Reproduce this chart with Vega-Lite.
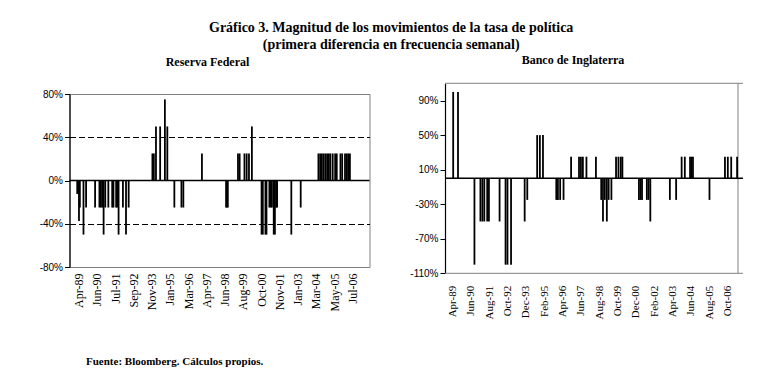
{
  "$schema": "https://vega.github.io/schema/vega-lite/v6.json",
  "background": "white",
  "padding": {"left": 38.5, "top": 20, "right": 5, "bottom": 5},
  "title": {
    "text": ["Gráfico 3. Magnitud de los movimientos de la tasa de política", "(primera diferencia en frecuencia semanal)"],
    "anchor": "middle",
    "font": "Liberation Serif",
    "fontSize": 14,
    "fontWeight": "bold",
    "lineHeight": 17,
    "offset": 1.7,
    "color": "black"
  },
  "datasets": {
    "fed": [
      {"fecha": "1989-03-05", "cambio": -0.125},
      {"fecha": "1989-03-27", "cambio": -0.125},
      {"fecha": "1989-04-14", "cambio": -0.375},
      {"fecha": "1989-05-04", "cambio": -0.25},
      {"fecha": "1989-07-27", "cambio": -0.5},
      {"fecha": "1989-09-25", "cambio": -0.25},
      {"fecha": "1990-04-20", "cambio": -0.25},
      {"fecha": "1990-07-29", "cambio": -0.25},
      {"fecha": "1990-09-01", "cambio": -0.25},
      {"fecha": "1990-10-04", "cambio": -0.25},
      {"fecha": "1990-11-02", "cambio": -0.5},
      {"fecha": "1990-12-10", "cambio": -0.25},
      {"fecha": "1991-02-19", "cambio": -0.25},
      {"fecha": "1991-05-19", "cambio": -0.25},
      {"fecha": "1991-06-17", "cambio": -0.25},
      {"fecha": "1991-08-18", "cambio": -0.25},
      {"fecha": "1991-09-14", "cambio": -0.25},
      {"fecha": "1991-10-13", "cambio": -0.5},
      {"fecha": "1992-01-21", "cambio": -0.25},
      {"fecha": "1992-04-01", "cambio": -0.5},
      {"fecha": "1992-06-01", "cambio": -0.25},
      {"fecha": "1993-11-30", "cambio": 0.25},
      {"fecha": "1994-01-02", "cambio": 0.25},
      {"fecha": "1994-02-20", "cambio": 0.5},
      {"fecha": "1994-05-27", "cambio": 0.5},
      {"fecha": "1994-09-13", "cambio": 0.75},
      {"fecha": "1994-11-08", "cambio": 0.5},
      {"fecha": "1995-04-19", "cambio": -0.25},
      {"fecha": "1995-09-29", "cambio": -0.25},
      {"fecha": "1995-11-12", "cambio": -0.25},
      {"fecha": "1997-01-13", "cambio": 0.25},
      {"fecha": "1998-07-23", "cambio": -0.25},
      {"fecha": "1998-08-12", "cambio": -0.25},
      {"fecha": "1998-09-01", "cambio": -0.25},
      {"fecha": "1999-04-23", "cambio": 0.25},
      {"fecha": "1999-05-31", "cambio": 0.25},
      {"fecha": "1999-09-19", "cambio": 0.25},
      {"fecha": "1999-11-09", "cambio": 0.25},
      {"fecha": "2000-01-01", "cambio": 0.25},
      {"fecha": "2000-03-08", "cambio": 0.5},
      {"fecha": "2000-10-17", "cambio": -0.5},
      {"fecha": "2000-11-15", "cambio": -0.5},
      {"fecha": "2001-01-14", "cambio": -0.5},
      {"fecha": "2001-02-07", "cambio": -0.5},
      {"fecha": "2001-04-15", "cambio": -0.25},
      {"fecha": "2001-05-14", "cambio": -0.25},
      {"fecha": "2001-06-12", "cambio": -0.25},
      {"fecha": "2001-07-24", "cambio": -0.5},
      {"fecha": "2001-08-20", "cambio": -0.5},
      {"fecha": "2001-09-18", "cambio": -0.25},
      {"fecha": "2001-10-10", "cambio": -0.25},
      {"fecha": "2002-09-02", "cambio": -0.5},
      {"fecha": "2003-04-06", "cambio": -0.25},
      {"fecha": "2004-05-18", "cambio": 0.25},
      {"fecha": "2004-06-27", "cambio": 0.25},
      {"fecha": "2004-08-06", "cambio": 0.25},
      {"fecha": "2004-09-15", "cambio": 0.25},
      {"fecha": "2004-10-25", "cambio": 0.25},
      {"fecha": "2004-12-04", "cambio": 0.25},
      {"fecha": "2005-01-13", "cambio": 0.25},
      {"fecha": "2005-02-17", "cambio": 0.25},
      {"fecha": "2005-04-12", "cambio": 0.25},
      {"fecha": "2005-06-07", "cambio": 0.25},
      {"fecha": "2005-07-14", "cambio": 0.25},
      {"fecha": "2005-10-07", "cambio": 0.25},
      {"fecha": "2005-11-16", "cambio": 0.25},
      {"fecha": "2006-01-20", "cambio": 0.25},
      {"fecha": "2006-02-28", "cambio": 0.25},
      {"fecha": "2006-04-03", "cambio": 0.25},
      {"fecha": "2006-05-13", "cambio": 0.25}
    ],
    "boe": [
      {"fecha": "1989-04-25", "cambio": 1.0},
      {"fecha": "1989-08-15", "cambio": 1.0},
      {"fecha": "1990-09-02", "cambio": -1.0},
      {"fecha": "1991-01-19", "cambio": -0.5},
      {"fecha": "1991-03-05", "cambio": -0.5},
      {"fecha": "1991-04-19", "cambio": -0.5},
      {"fecha": "1991-06-26", "cambio": -0.5},
      {"fecha": "1991-08-05", "cambio": -0.5},
      {"fecha": "1992-04-09", "cambio": -0.5},
      {"fecha": "1992-08-26", "cambio": -1.0},
      {"fecha": "1992-10-10", "cambio": -1.0},
      {"fecha": "1993-01-01", "cambio": -1.0},
      {"fecha": "1993-11-14", "cambio": -0.5},
      {"fecha": "1994-01-14", "cambio": -0.25},
      {"fecha": "1994-09-01", "cambio": 0.5},
      {"fecha": "1994-11-03", "cambio": 0.5},
      {"fecha": "1995-01-14", "cambio": 0.5},
      {"fecha": "1995-11-20", "cambio": -0.25},
      {"fecha": "1995-12-28", "cambio": -0.25},
      {"fecha": "1996-02-18", "cambio": -0.25},
      {"fecha": "1996-05-07", "cambio": -0.25},
      {"fecha": "1996-10-30", "cambio": 0.25},
      {"fecha": "1997-05-02", "cambio": 0.25},
      {"fecha": "1997-06-16", "cambio": 0.25},
      {"fecha": "1997-07-31", "cambio": 0.25},
      {"fecha": "1997-10-22", "cambio": 0.25},
      {"fecha": "1998-05-31", "cambio": 0.25},
      {"fecha": "1998-10-01", "cambio": -0.25},
      {"fecha": "1998-11-11", "cambio": -0.5},
      {"fecha": "1998-12-24", "cambio": -0.25},
      {"fecha": "1999-02-09", "cambio": -0.5},
      {"fecha": "1999-03-23", "cambio": -0.25},
      {"fecha": "1999-05-26", "cambio": -0.25},
      {"fecha": "1999-09-11", "cambio": 0.25},
      {"fecha": "1999-11-06", "cambio": 0.25},
      {"fecha": "1999-12-30", "cambio": 0.25},
      {"fecha": "2000-02-06", "cambio": 0.25},
      {"fecha": "2001-02-25", "cambio": -0.25},
      {"fecha": "2001-04-04", "cambio": -0.25},
      {"fecha": "2001-05-08", "cambio": -0.25},
      {"fecha": "2001-08-28", "cambio": -0.25},
      {"fecha": "2001-10-08", "cambio": -0.25},
      {"fecha": "2001-11-17", "cambio": -0.5},
      {"fecha": "2003-02-15", "cambio": -0.25},
      {"fecha": "2003-07-11", "cambio": -0.25},
      {"fecha": "2003-11-16", "cambio": 0.25},
      {"fecha": "2004-01-29", "cambio": 0.25},
      {"fecha": "2004-05-30", "cambio": 0.25},
      {"fecha": "2004-07-03", "cambio": 0.25},
      {"fecha": "2004-08-06", "cambio": 0.25},
      {"fecha": "2005-08-25", "cambio": -0.25},
      {"fecha": "2006-08-20", "cambio": 0.25},
      {"fecha": "2006-10-26", "cambio": 0.25},
      {"fecha": "2007-01-13", "cambio": 0.25},
      {"fecha": "2007-05-30", "cambio": 0.25}
    ]
  },
  "hconcat": [
    {
      "width": 300,
      "height": 173,
      "title": {"text": "Reserva Federal", "frame": "group", "anchor": "middle", "dx": -12, "offset": 20},
      "layer": [
        {
          "data": {"name": "fed"},
          "mark": {"type": "bar", "size": 1.8, "color": "black"},
          "encoding": {
            "x": {
              "field": "fecha", "type": "temporal",
              "scale": {"type": "utc", "domain": [{"year": 1989, "month": 1, "date": 1, "utc": true}, {"year": 2007, "month": 4, "date": 14, "utc": true}]},
              "axis": {
                "values": [
                  {"year": 1989, "month": 4, "date": 7, "utc": true},
                  {"year": 1990, "month": 6, "date": 1, "utc": true},
                  {"year": 1991, "month": 7, "date": 26, "utc": true},
                  {"year": 1992, "month": 9, "date": 18, "utc": true},
                  {"year": 1993, "month": 11, "date": 12, "utc": true},
                  {"year": 1995, "month": 1, "date": 6, "utc": true},
                  {"year": 1996, "month": 3, "date": 1, "utc": true},
                  {"year": 1997, "month": 4, "date": 25, "utc": true},
                  {"year": 1998, "month": 6, "date": 19, "utc": true},
                  {"year": 1999, "month": 8, "date": 13, "utc": true},
                  {"year": 2000, "month": 10, "date": 6, "utc": true},
                  {"year": 2001, "month": 11, "date": 30, "utc": true},
                  {"year": 2003, "month": 1, "date": 24, "utc": true},
                  {"year": 2004, "month": 3, "date": 19, "utc": true},
                  {"year": 2005, "month": 5, "date": 13, "utc": true},
                  {"year": 2006, "month": 7, "date": 7, "utc": true}
                ],
                "tickCount": 20,
                "format": "%b-%y",
                "labelAngle": -90,
                "labelFontSize": 12,
                "labelPadding": 6,
                "labelOverlap": false,
                "domain": false,
                "ticks": false,
                "grid": false,
                "title": "Fuente: Bloomberg. Cálculos propios.",
                "titleAnchor": "start",
                "titleAlign": "left",
                "titleBaseline": "middle",
                "titleX": 16,
                "titleY": 94,
                "titleFont": "Liberation Serif",
                "titleFontSize": 11,
                "titleFontWeight": "bold",
                "titleColor": "black"
              }
            },
            "y": {
              "field": "cambio", "type": "quantitative",
              "scale": {"domain": [-0.8, 0.8], "nice": false},
              "axis": {
                "values": [-0.8, -0.4, 0, 0.4, 0.8],
                "tickCount": 10,
                "labelExpr": "replace(format(datum.value, '.0%'), '\u2212', '-')",
                "labelOverlap": false,
                "title": null,
                "grid": true,
                "gridColor": "black",
                "gridDash": [6, 3],
                "gridWidth": 1,
                "gridOpacity": {"condition": {"test": "abs(datum.value) > 0.3 && abs(datum.value) < 0.5", "value": 1}, "value": 0}
              }
            }
          }
        },
        {
          "data": {"values": [{}]},
          "mark": {"type": "rule", "color": "black", "strokeWidth": 1.4},
          "encoding": {"y": {"datum": 0}}
        }
      ]
    },
    {
      "width": 298,
      "height": 179.3,
      "view": {"stroke": null},
      "title": {"text": "Banco de Inglaterra", "frame": "group", "anchor": "middle", "dx": -21, "offset": 16.3},
      "layer": [
        {
          "data": {"values": [{}]},
          "mark": {"type": "rule", "color": "#808080", "strokeWidth": 1},
          "encoding": {"y": {"datum": 1.1, "type": "quantitative"}}
        },
        {
          "data": {"values": [{}]},
          "mark": {"type": "rule", "color": "#808080", "strokeWidth": 1},
          "encoding": {"y": {"datum": -1.1, "type": "quantitative"}}
        },
        {
          "data": {"values": [{}]},
          "mark": {"type": "rule", "color": "#808080", "strokeWidth": 1},
          "encoding": {
            "x": {"datum": {"year": 2007, "month": 6, "date": 20, "utc": true}, "type": "temporal"},
            "y": {"datum": 1.1, "type": "quantitative"},
            "y2": {"datum": -1.1}
          }
        },
        {
          "data": {"name": "boe"},
          "mark": {"type": "bar", "size": 1.8, "color": "black"},
          "encoding": {
            "x": {
              "field": "fecha", "type": "temporal",
              "scale": {"type": "utc", "domain": [{"year": 1989, "month": 2, "date": 10, "utc": true}, {"year": 2007, "month": 6, "date": 20, "utc": true}]},
              "axis": {
                "values": [
                  {"year": 1989, "month": 4, "date": 7, "utc": true},
                  {"year": 1990, "month": 6, "date": 8, "utc": true},
                  {"year": 1991, "month": 8, "date": 9, "utc": true},
                  {"year": 1992, "month": 10, "date": 9, "utc": true},
                  {"year": 1993, "month": 12, "date": 10, "utc": true},
                  {"year": 1995, "month": 2, "date": 10, "utc": true},
                  {"year": 1996, "month": 4, "date": 12, "utc": true},
                  {"year": 1997, "month": 6, "date": 13, "utc": true},
                  {"year": 1998, "month": 8, "date": 14, "utc": true},
                  {"year": 1999, "month": 10, "date": 15, "utc": true},
                  {"year": 2000, "month": 12, "date": 15, "utc": true},
                  {"year": 2002, "month": 2, "date": 15, "utc": true},
                  {"year": 2003, "month": 4, "date": 18, "utc": true},
                  {"year": 2004, "month": 6, "date": 18, "utc": true},
                  {"year": 2005, "month": 8, "date": 19, "utc": true},
                  {"year": 2006, "month": 10, "date": 20, "utc": true}
                ],
                "tickCount": 20,
                "format": "%b-%y",
                "labelAngle": -90,
                "labelFontSize": 11,
                "labelPadding": 12,
                "labelOverlap": false,
                "domain": false,
                "ticks": false,
                "grid": false,
                "title": null
              }
            },
            "y": {
              "field": "cambio", "type": "quantitative",
              "scale": {"domain": [-1.1, 1.1], "nice": false, "range": [179.3, -10.7]},
              "axis": {
                "values": [-1.1, -0.7, -0.3, 0.1, 0.5, 0.9],
                "tickCount": 10,
                "labelExpr": "replace(format(datum.value, '.0%'), '\u2212', '-')",
                "labelOverlap": false,
                "title": null,
                "grid": false
              }
            }
          }
        },
        {
          "data": {"values": [{}]},
          "mark": {"type": "rule", "color": "black", "strokeWidth": 1.4},
          "encoding": {"y": {"datum": 0, "type": "quantitative"}}
        }
      ]
    }
  ],
  "spacing": 37.5,
  "config": {
    "view": {"stroke": "#808080", "strokeWidth": 1},
    "title": {"font": "Liberation Serif", "fontSize": 12, "fontWeight": "bold", "color": "black"},
    "axis": {
      "labelFont": "Liberation Serif",
      "labelColor": "black",
      "labelFlush": false,
      "domainColor": "black",
      "tickColor": "black"
    },
    "axisY": {
      "labelFont": "Liberation Sans",
      "labelFontSize": 10,
      "tickSize": 5,
      "labelPadding": 2,
      "domainColor": "black",
      "domainWidth": 1.2
    }
  }
}
